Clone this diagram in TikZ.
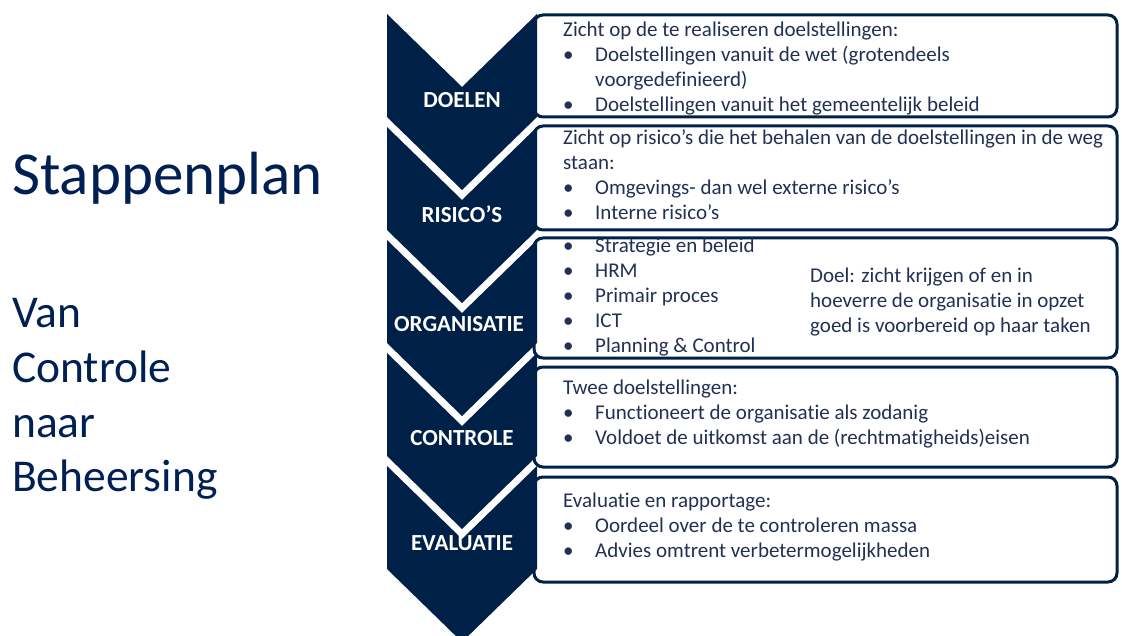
\documentclass[tikz,border=0pt]{standalone}
\usepackage{fontspec}
\setmainfont{Carlito}[Ligatures=NoCommon]
\usetikzlibrary{calc}
\definecolor{navy}{RGB}{0,33,71}
\definecolor{inknavy}{RGB}{35,48,84}
\definecolor{titlenavy}{RGB}{0,32,84}
\def\chevron(#1:#2){\fill[navy] (387,#1) -- (462,{#1+73}) -- (537,#1) -- (537,{#1+#2}) -- (462,{#1+#2+73}) -- (387,{#1+#2}) -- cycle;}
\tikzset{
  stepbox/.style={draw=navy, line width=3pt, rounded corners=9pt, fill=white},
  steplabel/.style={text=white, font=\bfseries\fontsize{23}{23}\selectfont, anchor=base, inner sep=0pt},
  boxtext/.style={text=inknavy, font=\fontsize{21}{25}\selectfont, anchor=base west, inner sep=0pt},
  bigtitle/.style={text=titlenavy, font=\fontsize{61}{61}\selectfont, anchor=base west, inner sep=0pt},
  subtitle/.style={text=titlenavy, font=\fontsize{45.5}{45.5}\selectfont, anchor=base west, inner sep=0pt}
}

\begin{document}
\begin{tikzpicture}[x=1pt, y=-1pt]
		%%%%% START %%%%%
		\useasboundingbox (0,0) rectangle (1122,636);
		\clip (0,0) rectangle (1122,636);
		
		% titel links
		\node[bigtitle] (stappen) at (12,195) {Stappenplan};
		\node[subtitle] (van) at (12,328) {Van};
		\node[subtitle] (controle) at (12,382.5) {Controle};
		\node[subtitle] (naar) at (12,437) {naar};
		\node[subtitle] (beheersing) at (12,491.5) {Beheersing};
		
		% tekstvakken
		\draw[stepbox] (534, 15) rectangle (1117, 117);
		\draw[stepbox] (534, 126) rectangle (1117, 230);
		\draw[stepbox] (534, 238) rectangle (1117, 358);
		\draw[stepbox] (534, 367) rectangle (1117, 467);
		\draw[stepbox] (534, 477) rectangle (1117, 582);
		
		% pijlen
		\chevron(14:103)
		\chevron(127:103)
		\chevron(240:103)
		\chevron(353:103)
		\chevron(466:103)
		
		\node[steplabel] (doelen) at (462, 108) {DOELEN};
		\node[steplabel] (risicos) at (462, 223) {RISICO’S};
		\node[steplabel] (organisatie) at (459, 332) {ORGANISATIE};
		\node[steplabel] (controlestap) at (462, 445) {CONTROLE};
		\node[steplabel] (evaluatie) at (462, 550) {EVALUATIE};
		
		\node[boxtext] (doelentxt) at (563, 37) {\begin{tabular}[t]{@{}p{32pt}@{}l@{}}
			\multicolumn{2}{@{}l@{}}{Zicht op de te realiseren doelstellingen:}\\
			\textbullet & Doelstellingen vanuit de wet (grotendeels\\
			& voorgedefinieerd)\\
			\textbullet & Doelstellingen vanuit het gemeentelijk beleid
		\end{tabular}};
		\node[boxtext] (risicotxt) at (563, 145) {\begin{tabular}[t]{@{}p{32pt}@{}l@{}}
			\multicolumn{2}{@{}l@{}}{Zicht op risico’s die het behalen van de doelstellingen in de weg}\\
			\multicolumn{2}{@{}l@{}}{staan:}\\
			\textbullet & Omgevings- dan wel externe risico’s\\
			\textbullet & Interne risico’s
		\end{tabular}};
		\node[boxtext] (orgtxt) at (563, 253) {\begin{tabular}[t]{@{}p{32pt}@{}l@{}}
			\textbullet & Strategie en beleid\\
			\textbullet & HRM\\
			\textbullet & Primair proces\\
			\textbullet & ICT\\
			\textbullet & Planning \& Control
		\end{tabular}};
		\node[boxtext] (orgdoel) at (810, 283) {\begin{tabular}[t]{@{}l@{}}
			Doel: zicht krijgen of en in\\
			hoeverre de organisatie in opzet\\
			goed is voorbereid op haar taken
		\end{tabular}};
		\node[boxtext] (controletxt) at (563, 394) {\begin{tabular}[t]{@{}p{32pt}@{}l@{}}
			\multicolumn{2}{@{}l@{}}{Twee doelstellingen:}\\
			\textbullet & Functioneert de organisatie als zodanig\\
			\textbullet & Voldoet de uitkomst aan de (rechtmatigheids)eisen
		\end{tabular}};
		\node[boxtext] (evaluatietxt) at (563, 507) {\begin{tabular}[t]{@{}p{32pt}@{}l@{}}
			\multicolumn{2}{@{}l@{}}{Evaluatie en rapportage:}\\
			\textbullet & Oordeel over de te controleren massa\\
			\textbullet & Advies omtrent verbetermogelijkheden
		\end{tabular}};
		
		%%%%% END %%%%%
	\end{tikzpicture}
\end{document}
